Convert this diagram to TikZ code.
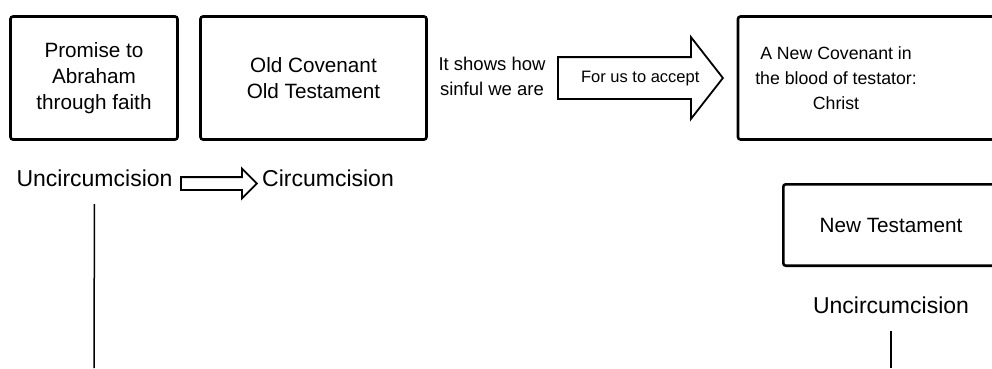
\documentclass[tikz,border=0pt]{standalone}
\usepackage{fontspec}
\setmainfont{Liberation Sans}
\usetikzlibrary{positioning}
\usetikzlibrary{shapes.arrows}

\begin{document}
\begin{tikzpicture}[x=1pt, y=-1pt,
        covenant/.style={draw, rectangle, line width=2.6pt, rounded corners=2.5pt, align=center, inner sep=0pt, font=\fontsize{20.7}{26}\selectfont},
        note/.style={align=center, inner sep=0pt, font=\fontsize{18}{25}\selectfont},
        state/.style={inner sep=0pt, font=\fontsize{23}{28}\selectfont},
        blockarrow/.style={draw, single arrow, line width=1.8pt, inner xsep=0pt, shape border rotate=0},
        lineage/.style={line width=1.5pt, shorten <=17pt}
      ]
    \useasboundingbox (0,0) rectangle (992,368);
    \clip (0,0) rectangle (992,368);

    % top row
    \node[covenant, minimum width=167pt, minimum height=123pt] (promise) at (94,78)
      {Promise to\\Abraham\\through faith};
    \node[covenant, minimum width=226pt, minimum height=123pt] (old) at (313.5,78)
      {Old Covenant\\Old Testament};
    \node[note, font=\fontsize{18.5}{25}\selectfont] (sinful) at (492,76)
      {It shows how\\sinful we are};
    \node[blockarrow, minimum height=165pt, minimum width=80pt,
          text height=12pt, text depth=3.5pt, inner ysep=12.25pt,
          single arrow head extend=20pt, single arrow tip angle=104,
          font=\fontsize{16.5}{20}\selectfont, anchor=tail] (accept) at (557,78) {\hspace*{16pt}For us to accept};
    \node[covenant, minimum width=272pt, minimum height=123pt] (new) at (874,78) {};
    \node[note, font=\fontsize{17.7}{25}\selectfont] (testator) at (836,78)
      {A New Covenant in\\the blood of testator:\\Christ};
    \node[covenant, minimum width=215.4pt, minimum height=81.4pt] (newtest) at (891,225)
      {New Testament};

    % bottom labels
    \node[state] (uncl) at (94.5,178.5) {Uncircumcision};
    \node[blockarrow, minimum height=76pt, minimum width=28pt,
          text height=0pt, text depth=0pt, inner ysep=5.5pt,
          single arrow head extend=8.5pt, single arrow tip angle=90,
          anchor=tail] (turn) at (180,183.5) {};
    \node[state] (circ) at (328,178.5) {Circumcision};
    \node[state] (uncr) at (891,305.5) {Uncircumcision};

    \coordinate (lend) at (94,368);
    \coordinate (rend) at (891,368);
    \draw[lineage] (uncl.south) -- (lend);
    \draw[lineage] (uncr.south) -- (rend);
\end{tikzpicture}
\end{document}
